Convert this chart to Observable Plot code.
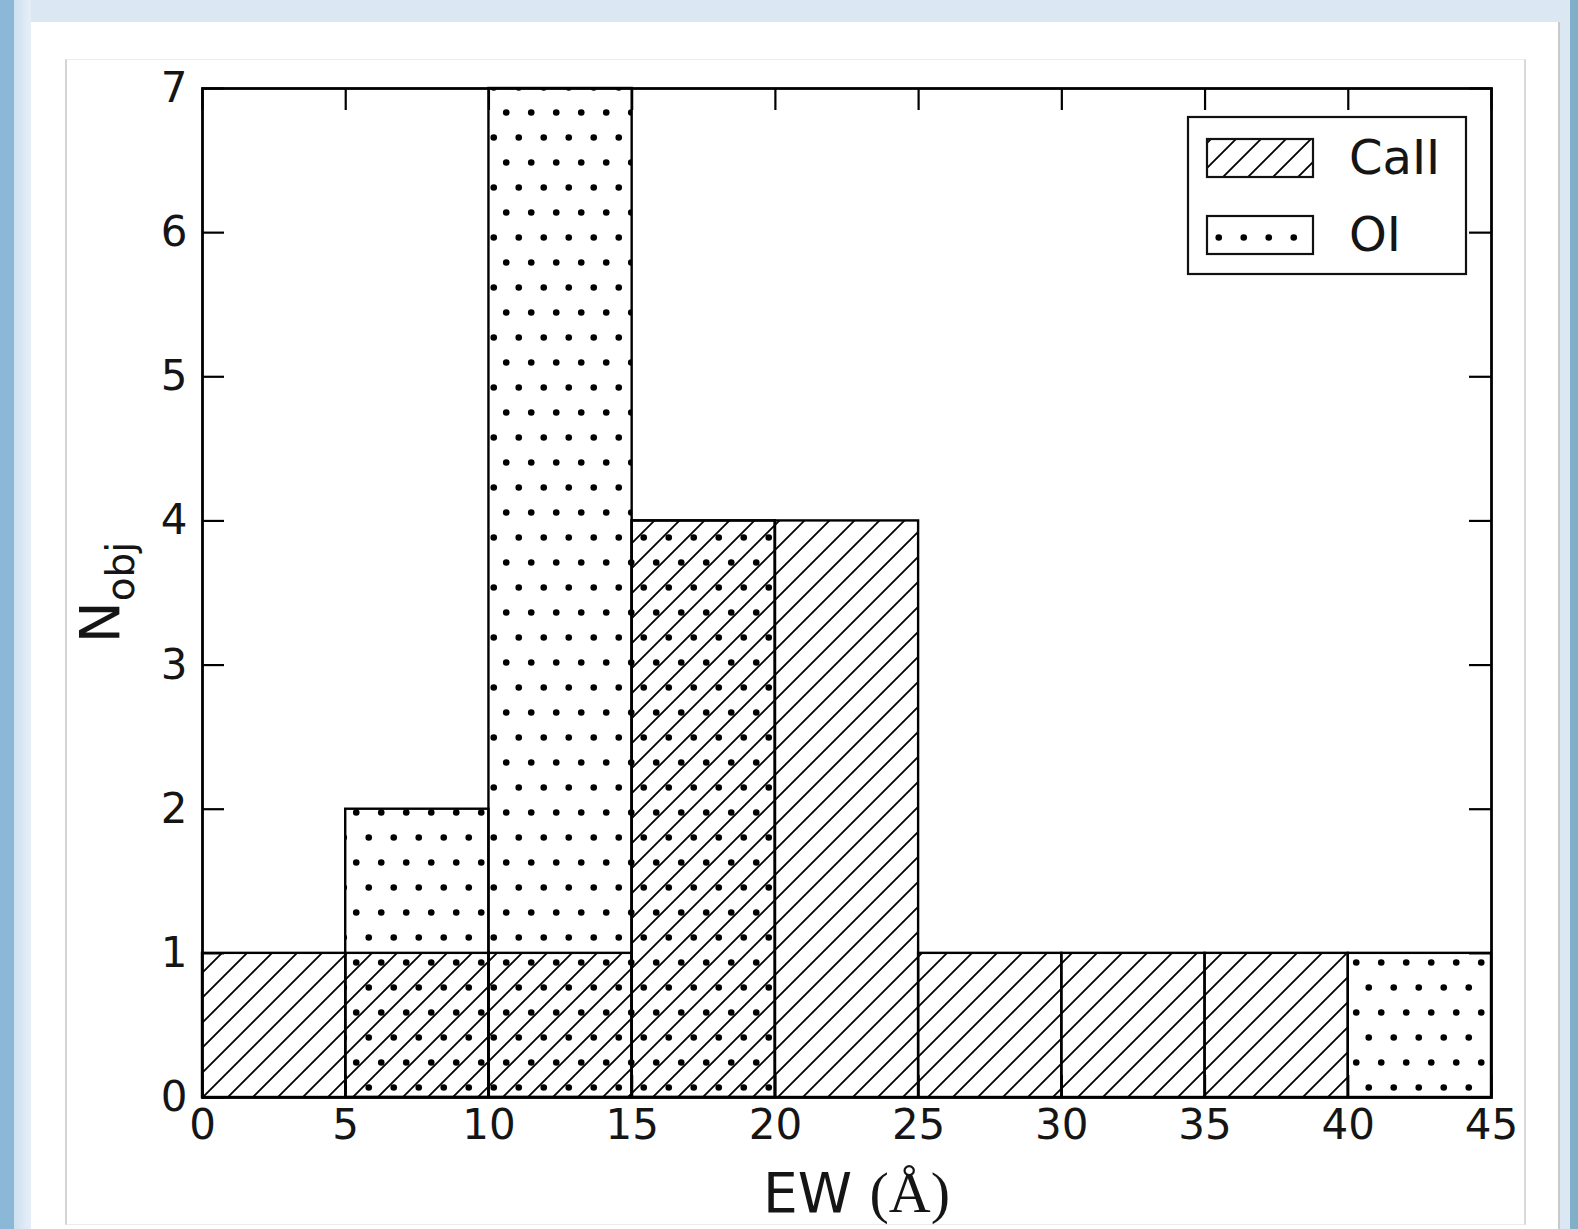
<!DOCTYPE html>
<html>
<head>
<meta charset="utf-8">
<script src="https://cdn.jsdelivr.net/npm/d3@7"></script>
<script src="https://cdn.jsdelivr.net/npm/@observablehq/plot@0.6"></script>
<style>
html, body { margin: 0; padding: 0; }
body { width: 1578px; height: 1229px; position: relative; overflow: hidden;
  background: #dbe8f4; font-family: "DejaVu Sans", sans-serif; }
#stripL { position: absolute; left: 0; top: 0; width: 14px; height: 1229px; background: #8bb8d7; }
#shade { position: absolute; left: 14px; top: 0; width: 17px; height: 1229px;
  background: linear-gradient(to right, #cfe0ef, #e6eff8); }
#stripR { position: absolute; left: 1570px; top: 0; width: 8px; height: 1229px; background: #7fb0c7; }
#panel { position: absolute; left: 31px; top: 22px; width: 1527px; height: 1207px; background: #fff;
  border-right: 2px solid #c9c9c9; }
#inner { position: absolute; left: 65px; top: 59px; width: 1457px; height: 1164px;
  border: 1px solid #ececec; border-left: 2px solid #d4d4d4; border-right: 2px solid #d9d9d9; }
#chart { position: absolute; left: 0; top: 0; }
</style>
</head>
<body>
<div id="stripL"></div><div id="shade"></div><div id="stripR"></div>
<div id="panel"></div><div id="inner"></div>
<div id="chart"></div>
<script>
// ---- data ----
const binStarts = [0, 5, 10, 15, 20, 25, 30, 35, 40];
const binWidth = 5;
const caII = [1, 1, 1, 4, 4, 1, 1, 1, 0];
const oI   = [0, 2, 7, 4, 0, 0, 0, 0, 1];
const xTicks = [0, 5, 10, 15, 20, 25, 30, 35, 40, 45];
const yTicks = [0, 1, 2, 3, 4, 5, 6, 7];
const seriesNames = ["CaII", "OI"];
const xLabel = "EW";
const xUnit = "(Å)";
const yLabelMain = "N";
const yLabelSub = "obj";

// ---- layout ----
const W = 1578, H = 1229;
const mL = 202, mT = 88, mR = 87, mB = 132;
const innerW = W - mL - mR, innerH = H - mT - mB;
const tickLen = 22;

const toRows = (vals) => binStarts.map((s, i) => ({x1: s, x2: s + binWidth, n: vals[i]})).filter(d => d.n > 0);
const caRows = toRows(caII);
const oiRows = toRows(oI);

const svg = Plot.plot({
  width: W, height: H,
  marginLeft: mL, marginRight: mR, marginTop: mT, marginBottom: mB,
  style: {background: "transparent", fontFamily: "DejaVu Sans", fontSize: "42px", color: "#151515"},
  x: {domain: [0, 45]},
  y: {domain: [0, 7]},
  marks: [
    Plot.rect(caRows, {x1: "x1", x2: "x2", y1: 0, y2: "n", fill: "url(#hatchCa)", stroke: "#000", strokeWidth: 2.4}),
    Plot.rect(oiRows, {x1: "x1", x2: "x2", y1: 0, y2: "n", fill: "url(#dotsOI)", stroke: "#000", strokeWidth: 2.4}),
    Plot.ruleX(xTicks, {x: d => d, insetTop: innerH - tickLen, stroke: "#000", strokeWidth: 2.2}),
    Plot.ruleX(xTicks, {x: d => d, insetBottom: innerH - tickLen, stroke: "#000", strokeWidth: 2.2}),
    Plot.ruleY(yTicks, {y: d => d, insetRight: innerW - tickLen, stroke: "#000", strokeWidth: 2.2}),
    Plot.ruleY(yTicks, {y: d => d, insetLeft: innerW - tickLen, stroke: "#000", strokeWidth: 2.2}),
    Plot.frame({stroke: "#000", strokeWidth: 2.8}),
    Plot.axisX(xTicks, {tickSize: 0, tickPadding: 12, fontSize: 42, label: null, tickFormat: d => String(d)}),
    Plot.axisY(yTicks, {tickSize: 0, tickPadding: 15, fontSize: 42, label: null, tickFormat: d => String(d)})
  ]
});

const s = d3.select(svg);
const defs = s.insert("defs", ":first-child");
const hp = defs.append("pattern").attr("id", "hatchCa").attr("patternUnits", "userSpaceOnUse")
  .attr("width", 25).attr("height", 25);
hp.append("path").attr("d", "M-2,27 L27,-2 M-8,8 L8,-8 M17,33 L33,17")
  .attr("stroke", "#000").attr("stroke-width", 1.8).attr("fill", "none");
const dp = defs.append("pattern").attr("id", "dotsOI").attr("patternUnits", "userSpaceOnUse")
  .attr("width", 25).attr("height", 50);
dp.append("circle").attr("cx", 6.25).attr("cy", 12.5).attr("r", 3.3).attr("fill", "#000");
dp.append("circle").attr("cx", 18.75).attr("cy", 37.5).attr("r", 3.3).attr("fill", "#000");

// axis labels
const xl = s.append("text").attr("x", mL + innerW / 2 + 10).attr("y", 1212)
  .attr("text-anchor", "middle").attr("fill", "#151515");
xl.append("tspan").attr("font-family", "DejaVu Sans").attr("font-size", 55).text(xLabel + " ");
xl.append("tspan").attr("font-family", "Liberation Serif").attr("font-size", 58).text(xUnit);

const yl = s.append("text").attr("transform", `translate(119,${mT + innerH / 2}) rotate(-90)`)
  .attr("text-anchor", "middle").attr("fill", "#151515").attr("font-family", "DejaVu Sans");
yl.append("tspan").attr("font-size", 56).text(yLabelMain);
yl.append("tspan").attr("font-size", 39).attr("dy", 15).text(yLabelSub);

// legend
const lg = s.append("g");
lg.append("rect").attr("x", 1188).attr("y", 117).attr("width", 278).attr("height", 157)
  .attr("fill", "#fff").attr("stroke", "#111").attr("stroke-width", 2.2);
const fills = ["url(#hatchCa)", "url(#dotsOI)"];
seriesNames.forEach((name, i) => {
  const y0 = 139 + i * 77;
  lg.append("rect").attr("x", 1207).attr("y", y0).attr("width", 106).attr("height", 38)
    .attr("fill", fills[i]).attr("stroke", "#111").attr("stroke-width", 2.2);
  lg.append("text").attr("x", 1349).attr("y", y0 + 35).attr("font-size", 48)
    .attr("text-anchor", "start")
    .attr("font-family", "DejaVu Sans").attr("fill", "#151515").text(name);
});

document.getElementById("chart").appendChild(svg);
</script>
</body>
</html>
